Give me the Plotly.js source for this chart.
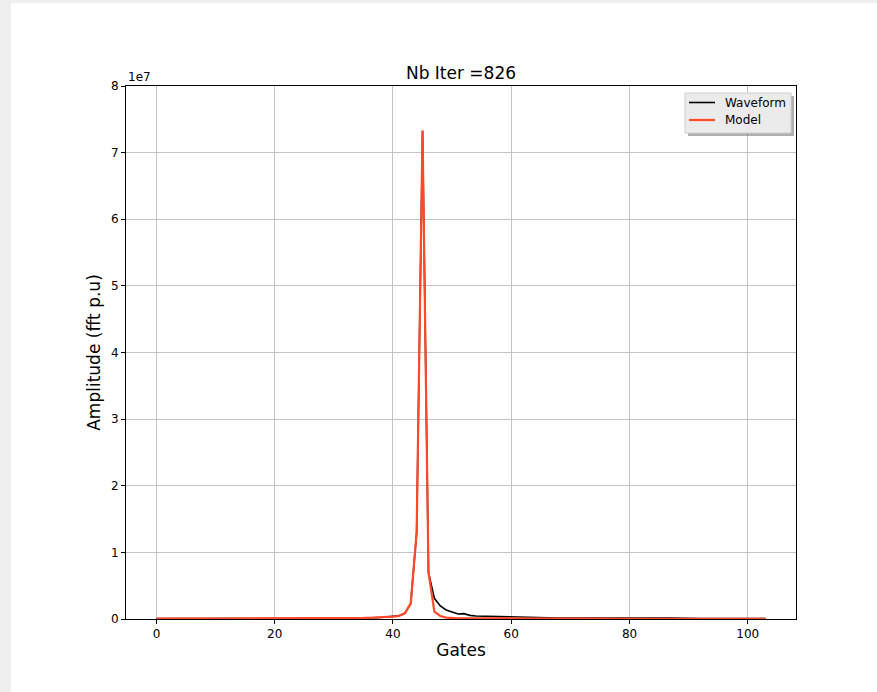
<!DOCTYPE html>
<html>
<head>
<meta charset="utf-8">
<script src="https://cdn.plot.ly/plotly-3.0.1.min.js"></script>
<style>
html, body { margin: 0; padding: 0; background: #efefef; width: 877px; height: 692px; overflow: hidden; }
#chart { position: absolute; left: 11px; top: 3px; width: 866px; height: 689px; background: #ffffff; }
</style>
</head>
<body>
<div id="chart"></div>
<script>
// Gates 0..103
const gates = Array.from({length: 104}, (_, i) => i);

const waveform = [
  52000, 48000, 50000, 55000, 47000, 51000, 53000, 49000, 50000, 54000,
  56000, 52000, 58000, 60000, 55000, 62000, 59000, 63000, 61000, 65000,
  68000, 64000, 70000, 72000, 69000, 75000, 78000, 80000, 85000, 90000,
  95000, 100000, 110000, 120000, 130000, 150000, 170000, 200000, 240000, 290000,
  350000, 480000, 850000, 2300000, 13000000, 73300000, 7000000, 3100000, 1950000, 1350000,
  1050000, 750000, 800000, 550000, 450000, 420000, 400000, 380000, 350000, 320000,
  280000, 250000, 230000, 210000, 190000, 170000, 160000, 150000, 140000, 130000,
  125000, 120000, 115000, 110000, 105000, 100000, 95000, 92000, 90000, 88000,
  86000, 85000, 84000, 88000, 95000, 110000, 125000, 140000, 150000, 130000,
  100000, 90000, 85000, 80000, 78000, 75000, 72000, 70000, 68000, 66000,
  65000, 64000, 62000, 60000
];

const model = [
  50000, 50000, 51000, 51000, 52000, 52000, 53000, 53000, 54000, 55000,
  56000, 57000, 58000, 59000, 60000, 61000, 62000, 63000, 64000, 66000,
  68000, 70000, 72000, 74000, 76000, 79000, 82000, 85000, 89000, 94000,
  100000, 107000, 115000, 125000, 140000, 160000, 185000, 215000, 250000, 300000,
  350000, 450000, 850000, 2350000, 13000000, 73300000, 7000000, 1100000, 450000, 200000,
  120000, 100000, 90000, 85000, 80000, 78000, 76000, 74000, 72000, 70000,
  68000, 67000, 66000, 65000, 64000, 63000, 62000, 61000, 60000, 59000,
  58000, 57000, 56000, 55000, 54000, 53000, 52000, 51000, 50000, 49000,
  48000, 47000, 46000, 45000, 44000, 43000, 42000, 41000, 40000, 40000,
  39000, 38000, 37000, 36000, 35000, 34000, 33000, 32000, 31000, 30000,
  30000, 29000, 28000, 28000
];

const seriesNames = ['Waveform', 'Model'];
const seriesColors = ['#000000', '#ff4a2a'];
const yTickVals = [0, 1e7, 2e7, 3e7, 4e7, 5e7, 6e7, 7e7, 8e7];
const yTickText = ['0', '1', '2', '3', '4', '5', '6', '7', '8'];

const font = 'DejaVu Sans, sans-serif';

const traces = [
  { x: gates, y: waveform, type: 'scatter', mode: 'lines', name: seriesNames[0],
    line: { color: seriesColors[0], width: 1.6 } },
  { x: gates, y: model, type: 'scatter', mode: 'lines', name: seriesNames[1],
    line: { color: seriesColors[1], width: 2.2 } }
];

// Plot area in page px: x 126..796, y 86..619; div offset (11,3)
const L = 115, R = 81, T = 83, B = 73;
const pw = 866 - L - R, ph = 689 - T - B;
function px2x(p) { return (p - 126) / pw; }
function px2y(p) { return 1 - (p - 86) / ph; }

// legend drawn as decoration (matplotlib-style box with shadow)
const legShapes = [
  { type: 'rect', xref: 'paper', yref: 'paper', layer: 'above',
    x0: px2x(688), x1: px2x(794), y0: px2y(96), y1: px2y(136),
    fillcolor: 'rgba(110,110,110,0.55)', line: { width: 0 } },
  { type: 'rect', xref: 'paper', yref: 'paper', layer: 'above',
    x0: px2x(685), x1: px2x(791), y0: px2y(93), y1: px2y(133),
    fillcolor: '#ebebeb', line: { color: '#cfcfcf', width: 1 } }
];
const legRowsY = [102.5, 120];
const legAnn = [];
seriesNames.forEach((n, i) => {
  legShapes.push({ type: 'line', xref: 'paper', yref: 'paper', layer: 'above',
    x0: px2x(689), x1: px2x(715), y0: px2y(legRowsY[i]), y1: px2y(legRowsY[i]),
    line: { color: seriesColors[i], width: i === 0 ? 1.6 : 2.2 } });
  legAnn.push({ text: n, xref: 'paper', yref: 'paper', x: px2x(723), y: px2y(legRowsY[i]),
    xanchor: 'left', yanchor: 'middle', showarrow: false,
    font: { family: font, size: 12, color: '#000' } });
});

const layout = {
  width: 866, height: 689,
  margin: { l: L, r: R, t: T, b: B, pad: 0 },
  paper_bgcolor: '#ffffff', plot_bgcolor: '#ffffff',
  font: { family: font, size: 12, color: '#000000' },
  showlegend: false,
  title: { text: 'Nb Iter =826', font: { family: font, size: 17, color: '#000' },
           x: 0.5, xref: 'paper', xanchor: 'center', y: 1 - 70 / 689, yref: 'container', yanchor: 'middle' },
  xaxis: {
    range: [-5.15, 108.15], tick0: 0, dtick: 20,
    showgrid: true, gridcolor: '#c4c4c4', gridwidth: 1,
    zeroline: false, showline: true, linecolor: '#000', linewidth: 1, mirror: true,
    ticks: 'outside', ticklen: 4, tickcolor: '#000', tickwidth: 1,
    tickfont: { family: font, size: 12, color: '#000' },
    title: { text: 'Gates', font: { family: font, size: 17, color: '#000' }, standoff: 3 }
  },
  yaxis: {
    range: [0, 8e7], tickvals: yTickVals, ticktext: yTickText,
    showgrid: true, gridcolor: '#c4c4c4', gridwidth: 1,
    zeroline: false, showline: true, linecolor: '#000', linewidth: 1, mirror: true,
    ticks: 'outside', ticklen: 4, tickcolor: '#000', tickwidth: 1,
    tickfont: { family: font, size: 12, color: '#000' },
    title: { text: 'Amplitude (fft p.u)', font: { family: font, size: 17, color: '#000' }, standoff: 6 }
  },
  annotations: [
    { text: '1e7', xref: 'paper', yref: 'paper', x: 0, y: 1, xanchor: 'left', yanchor: 'bottom',
      showarrow: false, font: { family: font, size: 12, color: '#000' } }
  ].concat(legAnn),
  shapes: legShapes
};

Plotly.newPlot('chart', traces, layout, { displayModeBar: false, staticPlot: true });
</script>
</body>
</html>
